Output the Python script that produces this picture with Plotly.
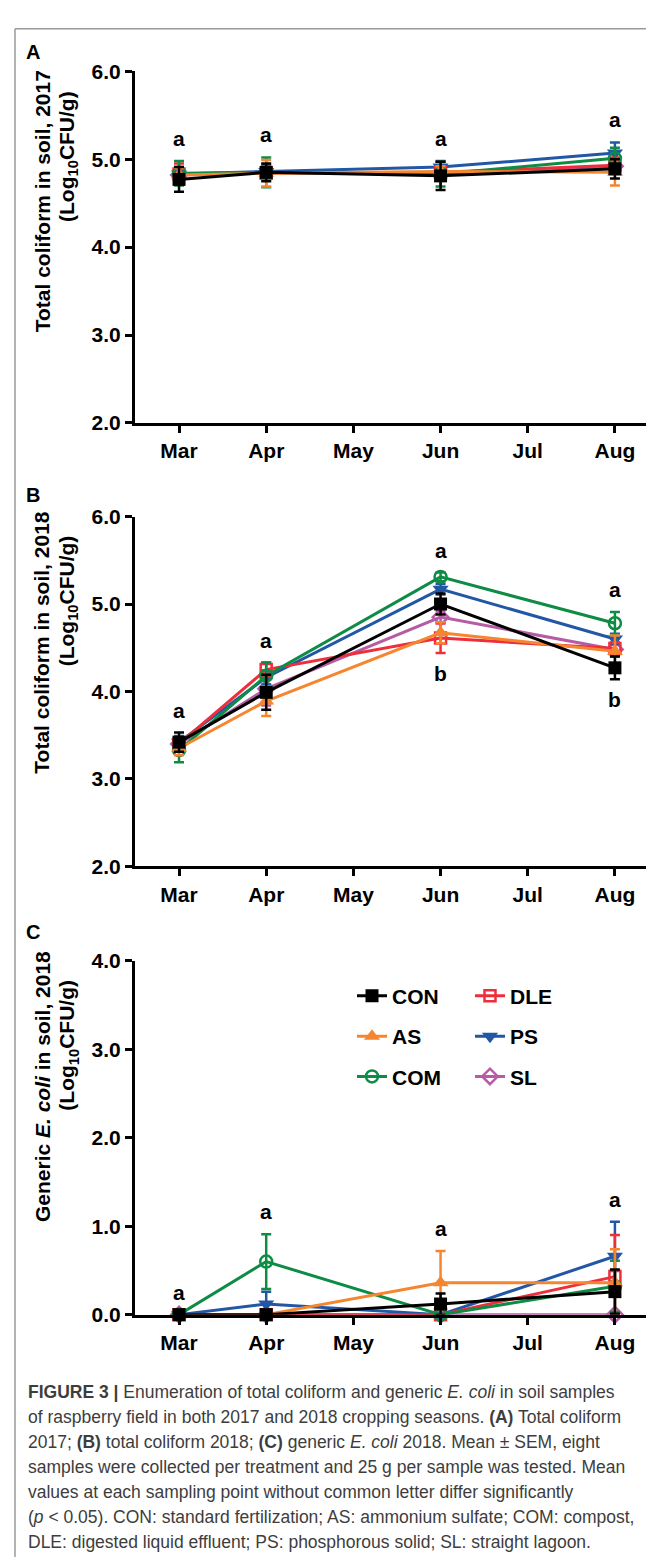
import plotly.graph_objects as go

W, H = 654, 1560

MONTHS = ["Mar", "Apr", "May", "Jun", "Jul", "Aug"]
SAMPLED = ["Mar", "Apr", "Jun", "Aug"]
TREATMENTS = ["CON", "AS", "COM", "DLE", "PS", "SL"]

# ---- Panel A: total coliform in soil, 2017 (Log10 CFU/g): mean, SEM ----
A_CON = [4.77, 4.85, 4.81, 4.89]
A_CON_SEM = [0.14, 0.10, 0.16, 0.11]
A_AS = [4.82, 4.84, 4.86, 4.85]
A_AS_SEM = [0.08, 0.15, 0.06, 0.15]
A_COM = [4.84, 4.85, 4.83, 5.01]
A_COM_SEM = [0.14, 0.17, 0.14, 0.12]
A_DLE = [4.83, 4.84, 4.85, 4.93]
A_DLE_SEM = [0.12, 0.08, 0.07, 0.09]
A_PS = [4.83, 4.86, 4.91, 5.07]
A_PS_SEM = [0.08, 0.07, 0.07, 0.12]
A_SL = [4.82, 4.85, 4.84, 4.92]
A_SL_SEM = [0.07, 0.06, 0.06, 0.08]

# ---- Panel B: total coliform in soil, 2018 ----
B_CON = [3.42, 3.99, 5.00, 4.27]
B_CON_SEM = [0.11, 0.20, 0.12, 0.13]
B_AS = [3.35, 3.89, 4.67, 4.46]
B_AS_SEM = [0.08, 0.17, 0.12, 0.18]
B_COM = [3.33, 4.18, 5.31, 4.78]
B_COM_SEM = [0.14, 0.15, 0.05, 0.13]
B_DLE = [3.40, 4.25, 4.61, 4.49]
B_DLE_SEM = [0.08, 0.08, 0.17, 0.07]
B_PS = [3.42, 4.16, 5.17, 4.60]
B_PS_SEM = [0.07, 0.08, 0.06, 0.06]
B_SL = [3.40, 4.03, 4.85, 4.48]
B_SL_SEM = [0.08, 0.19, 0.07, 0.08]

# ---- Panel C: generic E. coli in soil, 2018 ----
C_CON = [0.0, 0.0, 0.12, 0.26]
C_CON_SEM = [0.0, 0.0, 0.12, 0.25]
C_AS = [0.0, 0.0, 0.36, 0.36]
C_AS_SEM = [0.0, 0.0, 0.36, 0.38]
C_COM = [0.0, 0.60, 0.0, 0.32]
C_COM_SEM = [0.0, 0.31, 0.0, 0.29]
C_DLE = [0.0, 0.0, 0.0, 0.43]
C_DLE_SEM = [0.0, 0.0, 0.0, 0.47]
C_PS = [0.0, 0.12, 0.0, 0.66]
C_PS_SEM = [0.0, 0.14, 0.0, 0.39]
C_SL = [0.0, 0.0, 0.0, 0.0]
C_SL_SEM = [0.0, 0.0, 0.0, 0.0]

# significance letters per sampling month
A_LETTERS_TOP = ["a", "a", "a", "a"]
B_LETTERS_TOP = ["a", "a", "a", "a"]
B_LETTERS_BOTTOM = ["", "", "b", "b"]
C_LETTERS_TOP = ["a", "a", "a", "a"]

A_YTICKS = [2.0, 3.0, 4.0, 5.0, 6.0]
B_YTICKS = [2.0, 3.0, 4.0, 5.0, 6.0]
C_YTICKS = [0.0, 1.0, 2.0, 3.0, 4.0]

# ---------------- styling ----------------
STYLE = {
    "CON": dict(color="#000000", symbol="square", size=13),
    "AS": dict(color="#F5862F", symbol="triangle-up", size=14),
    "COM": dict(color="#0E8C45", symbol="circle-open", size=12),
    "DLE": dict(color="#EE2F3B", symbol="square-open", size=11),
    "PS": dict(color="#2257A6", symbol="triangle-down", size=14),
    "SL": dict(color="#B65CA5", symbol="diamond-open", size=12),
}
DRAW_ORDER = ["SL", "PS", "DLE", "COM", "AS", "CON"]
LEGEND_OF = {"CON": "legend", "AS": "legend", "COM": "legend",
             "DLE": "legend2", "PS": "legend2", "SL": "legend2"}

FONT = "Liberation Sans, Arial, Helvetica, sans-serif"
FS = 21

def px_x(p):
    return p / W

def px_y(p):
    return 1 - p / H

PANELS = [
    dict(top=52, bottom=409, rng=[2, 6], ticks=A_YTICKS,
         data={"CON": (A_CON, A_CON_SEM), "AS": (A_AS, A_AS_SEM), "COM": (A_COM, A_COM_SEM),
               "DLE": (A_DLE, A_DLE_SEM), "PS": (A_PS, A_PS_SEM), "SL": (A_SL, A_SL_SEM)},
         top_letters=A_LETTERS_TOP, bottom_letters=None),
    dict(top=504, bottom=859, rng=[2, 6], ticks=B_YTICKS,
         data={"CON": (B_CON, B_CON_SEM), "AS": (B_AS, B_AS_SEM), "COM": (B_COM, B_COM_SEM),
               "DLE": (B_DLE, B_DLE_SEM), "PS": (B_PS, B_PS_SEM), "SL": (B_SL, B_SL_SEM)},
         top_letters=B_LETTERS_TOP, bottom_letters=B_LETTERS_BOTTOM),
    dict(top=955, bottom=1314, rng=[0, 4], ticks=C_YTICKS,
         data={"CON": (C_CON, C_CON_SEM), "AS": (C_AS, C_AS_SEM), "COM": (C_COM, C_COM_SEM),
               "DLE": (C_DLE, C_DLE_SEM), "PS": (C_PS, C_PS_SEM), "SL": (C_SL, C_SL_SEM)},
         top_letters=C_LETTERS_TOP, bottom_letters=None),
]

X_LEFT, X_RIGHT = 127, 654
X_RANGE = [-0.505, 5.54]

fig = go.Figure()
annotations = []
layout_axes = {}

for i, p in enumerate(PANELS):
    n = "" if i == 0 else str(i + 1)
    xref, yref = "x" + n, "y" + n
    for t in DRAW_ORDER:
        mean, sem = p["data"][t]
        st = STYLE[t]
        filled = not st["symbol"].endswith("open")
        fig.add_trace(go.Scatter(
            x=SAMPLED, y=mean, name=t, xaxis=xref, yaxis=yref,
            mode="lines+markers", cliponaxis=False,
            line=dict(color=st["color"], width=3),
            marker=dict(symbol=st["symbol"], size=st["size"], color=st["color"],
                        line=dict(color=st["color"], width=2.5 if not filled else 0)),
            error_y=dict(type="data", array=sem, visible=True, color=st["color"],
                         thickness=2.5, width=5),
            legendgroup=t, showlegend=(i == 2), legend=LEGEND_OF[t],
            legendrank=TREATMENTS.index(t) + 1,
        ))
    for k, m in enumerate(SAMPLED):
        tops = [p["data"][t][0][k] + p["data"][t][1][k] for t in TREATMENTS]
        bots = [p["data"][t][0][k] - p["data"][t][1][k] for t in TREATMENTS]
        if p["top_letters"][k]:
            annotations.append(dict(x=m, y=max(tops), xref=xref, yref=yref,
                                    text=p["top_letters"][k], showarrow=False,
                                    yanchor="bottom", yshift=9,
                                    font=dict(family=FONT, size=FS, color="black", weight="bold")))
        if p["bottom_letters"] and p["bottom_letters"][k]:
            annotations.append(dict(x=m, y=min(bots), xref=xref, yref=yref,
                                    text=p["bottom_letters"][k], showarrow=False,
                                    yanchor="top", yshift=-7,
                                    font=dict(family=FONT, size=FS, color="black", weight="bold")))
    layout_axes["xaxis" + n] = dict(
        domain=[px_x(X_LEFT), px_x(X_RIGHT)], anchor=yref,
        type="category", categoryorder="array", categoryarray=MONTHS,
        range=X_RANGE, tickvals=MONTHS, ticktext=MONTHS,
        showline=True, linewidth=3, linecolor="black", ticks="outside",
        ticklen=7, tickwidth=3, tickcolor="black", showgrid=False, zeroline=False,
        tickfont=dict(family=FONT, size=FS, color="black", weight="bold"),
        fixedrange=True,
    )
    layout_axes["yaxis" + n] = dict(
        domain=[px_y(p["bottom"]), px_y(p["top"])], anchor=xref,
        range=p["rng"], tickvals=p["ticks"], ticktext=[f"{v:.1f}" for v in p["ticks"]],
        showline=True, linewidth=3, linecolor="black", ticks="outside",
        ticklen=7, tickwidth=3, tickcolor="black", showgrid=False, zeroline=False,
        tickfont=dict(family=FONT, size=FS, color="black", weight="bold"),
        fixedrange=True,
    )

# y-axis titles
TITLE_FONT = dict(family=FONT, size=FS, color="black", weight="bold")
titles = [
    ("Total coliform in soil, 2017", 184, 139),
    ("Total coliform in soil, 2018", 632, 590),
    ("Generic <i>E. coli</i> in soil, 2018", 1083, 1041),
]
for txt, c1, c2 in titles:
    annotations.append(dict(x=px_x(34), y=px_y(c1), xref="paper", yref="paper", text=txt,
                            textangle=-90, showarrow=False, xanchor="center", yanchor="middle",
                            font=TITLE_FONT))
    annotations.append(dict(x=px_x(60), y=px_y(c2), xref="paper", yref="paper",
                            text="(Log<sub>10</sub>CFU/g)",
                            textangle=-90, showarrow=False, xanchor="center", yanchor="middle",
                            font=TITLE_FONT))

# panel letters
for lab, yy in [("A", 32), ("B", 482), ("C", 926)]:
    annotations.append(dict(x=px_x(16), y=px_y(yy), xref="paper", yref="paper", text=lab,
                            showarrow=False, xanchor="left", yanchor="middle",
                            font=dict(family=FONT, size=20, color="black", weight="bold")))

# caption
CAPTION_LINES = [
    "<b>FIGURE 3 |</b> Enumeration of total coliform and generic <i>E. coli</i> in soil samples",
    "of raspberry field in both 2017 and 2018 cropping seasons. <b>(A)</b> Total coliform",
    "2017; <b>(B)</b> total coliform 2018; <b>(C)</b> generic <i>E. coli</i> 2018. Mean ± SEM, eight",
    "samples were collected per treatment and 25 g per sample was tested. Mean",
    "values at each sampling point without common letter differ significantly",
    "(<i>p</i> &lt; 0.05). CON: standard fertilization; AS: ammonium sulfate; COM: compost,",
    "DLE: digested liquid effluent; PS: phosphorous solid; SL: straight lagoon.",
]
CAP_FONT = dict(family="Liberation Sans Narrow, Arial Narrow, Liberation Sans, sans-serif",
                size=17.5, color="#3d3d3d")
for j, line in enumerate(CAPTION_LINES):
    annotations.append(dict(x=px_x(18), y=px_y(1393 + 25.3 * j), xref="paper", yref="paper",
                            text=line, showarrow=False, xanchor="left", yanchor="middle",
                            align="left", font=CAP_FONT))

LEG_FONT = dict(family=FONT, size=FS, color="black", weight="bold")
fig.update_layout(
    width=W, height=H,
    margin=dict(l=0, r=0, t=0, b=0),
    paper_bgcolor="white", plot_bgcolor="white",
    showlegend=True,
    legend=dict(x=px_x(344), y=px_y(970), xanchor="left", yanchor="top",
                orientation="v", font=LEG_FONT, tracegroupgap=10,
                bgcolor="rgba(0,0,0,0)", itemwidth=30),
    legend2=dict(x=px_x(462), y=px_y(970), xanchor="left", yanchor="top",
                 orientation="v", font=LEG_FONT, tracegroupgap=10,
                 bgcolor="rgba(0,0,0,0)", itemwidth=30),
    annotations=annotations,
    shapes=[
        dict(type="line", xref="paper", yref="paper", x0=px_x(7), x1=1, y0=px_y(9), y1=px_y(9),
             line=dict(color="#9a9a9a", width=1.5)),
        dict(type="line", xref="paper", yref="paper", x0=px_x(7), x1=px_x(7), y0=px_y(9), y1=0,
             line=dict(color="#9a9a9a", width=1.5)),
    ],
    **layout_axes,
)

fig.write_html("out.html")
